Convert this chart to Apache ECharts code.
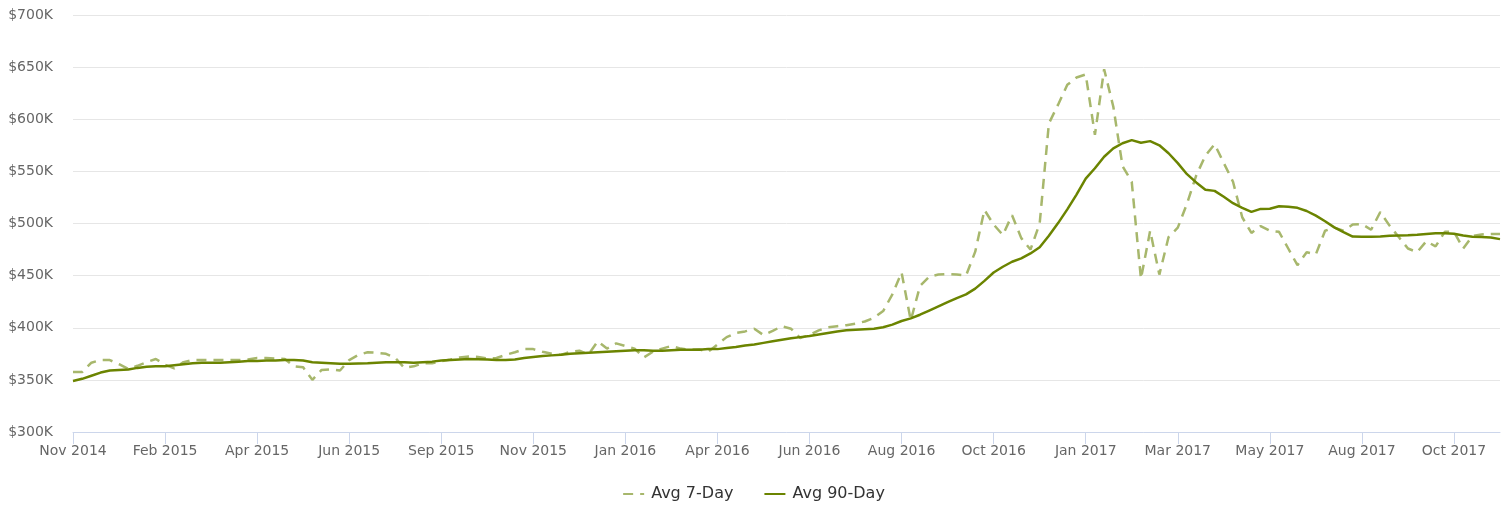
<!DOCTYPE html>
<html>
<head>
<meta charset="utf-8">
<script src="https://cdn.jsdelivr.net/npm/echarts@6/dist/echarts.min.js"></script>
<style>
html,body{margin:0;padding:0;background:#fff;}
#chart{width:1507px;height:506px;}
</style>
</head>
<body>
<div id="chart"></div>
<script>
// Weekly categories starting 2014-11-29
const startDate = '2014-11-29';
const weekCount = 156;
const categories = [];
(function(){
  const t0 = Date.parse(startDate + 'T00:00:00Z');
  for (let i = 0; i < weekCount; i++) {
    categories.push(new Date(t0 + i * 7 * 86400000).toISOString().slice(0, 10));
  }
})();

const tickLabels = ['Nov 2014','Feb 2015','Apr 2015','Jun 2015','Sep 2015','Nov 2015','Jan 2016','Apr 2016','Jun 2016','Aug 2016','Oct 2016','Jan 2017','Mar 2017','May 2017','Aug 2017','Oct 2017'];

const seriesNames = ['Avg 7-Day', 'Avg 90-Day'];

// values in $K
const avg7Day = [
  357.5,357.5,366.5,369,369,365,360.5,363.5,367,370,
  364.5,361,367,369,369,369,369,369,369,369.5,
  371,371,370.5,370,363,362,350,359.5,360,359,
  369,374,376.5,376,375,371,361.5,363,366,366,
  368,369.5,371.5,372.5,372,370.5,371,374,376.5,379.5,
  379.5,377,375,374,377,378,374.5,387,380,385,
  382.5,380,371.5,377,380,382.5,380,379,379.3,377,
  384,391,395,396.5,399,393,397,401.5,399,390,
  393,397.5,400.5,401.5,402.5,404,406,409.5,416,432,
  453,407,440,449,451,451.5,451,450,473,513,
  499,489,508,486,475,500,596,614,633,640,
  643,585,648,612,555,540,447,493,451,487,
  496,519,546,565,576,558,540,506,491,497.5,
  493,492,476,460,472.5,470.5,493,496,493,499,
  499.5,494,511,498,487,476,472.5,483,478,492,
  492,476,488,489.5,490,490
];

const avg90Day = [
  349,351,354,357,359,359.5,360,361.5,362.5,363,
  363,364,365,366,366.5,366.5,366.5,367,367.5,368,
  368,368.5,368.5,369,369,368.5,367,366.5,366,365.5,
  365.5,365.8,366,366.5,366.8,367,367,366.5,367,367.5,
  368.5,369,369.5,370,369.8,369.5,369,369,369.5,371,
  372,373,373.5,374,375,375.5,376,376.5,377,377.5,
  378,378.5,378.5,378,378,378.5,379,379,379,379.5,
  379.5,380.5,381.5,383,384,385.5,387,388.5,390,391,
  392,393.5,395,396.5,397.5,398,398.5,399,400.5,403,
  406.5,409,412.5,416.5,420.5,424.5,428.5,432,437.5,445,
  453,458.5,463.3,466.5,471.3,477.2,488.3,500.4,513.6,527.7,
  543,553,564,572,577,580,577.5,579,575,567.4,
  557.9,547.3,539.4,532.4,531.3,525.6,519.5,515,511.2,514,
  514.1,516.5,516,515,512,507.5,502.2,496.3,491.8,487.5,
  487.2,487.3,487.6,488.2,488.5,488.8,489.3,490,490.6,490.6,
  490.2,488.5,487.3,487,486.5,485
];

const yMin = 300, yMax = 700, yStep = 50;

const chart = echarts.init(document.getElementById('chart'), null, {renderer: 'canvas'});
chart.setOption({
  animation: false,
  backgroundColor: '#ffffff',
  textStyle: {fontFamily: 'DejaVu Sans'},
  grid: {left: 73, right: 7, top: 15, bottom: 74, containLabel: false},
  legend: {
    top: 481,
    left: 'center',
    itemWidth: 21,
    itemHeight: 16,
    itemGap: 30,
    itemStyle: {opacity: 0},
    textStyle: {fontSize: 16, color: '#333333', fontFamily: 'DejaVu Sans', padding: [0, 0, 0, 2]},
    data: seriesNames
  },
  xAxis: {
    type: 'category',
    data: categories,
    boundaryGap: false,
    axisLine: {lineStyle: {color: '#ccd6eb', width: 1}},
    axisTick: {show: true, interval: 9, length: 12, lineStyle: {color: '#ccd6eb'}},
    axisLabel: {
      interval: 9,
      margin: 12,
      fontSize: 14,
      color: '#666666',
      fontFamily: 'DejaVu Sans',
      formatter: function (v, idx) { return idx % 10 === 0 ? tickLabels[idx / 10] : ''; }
    },
    splitLine: {show: false}
  },
  yAxis: {
    type: 'value',
    min: yMin, max: yMax, interval: yStep,
    axisLine: {show: false},
    axisTick: {show: false},
    axisLabel: {
      margin: 20,
      fontSize: 14,
      color: '#666666',
      fontFamily: 'DejaVu Sans',
      formatter: function (v) { return '$' + v + 'K'; }
    },
    splitLine: {lineStyle: {color: '#e6e6e6', width: 1}}
  },
  series: [
    {
      name: seriesNames[0],
      type: 'line',
      data: avg7Day,
      showSymbol: false,
      symbol: 'none',
      color: '#a7b76c',
      lineStyle: {color: '#a7b76c', width: 2.5, type: [10, 7]},
      z: 2
    },
    {
      name: seriesNames[1],
      type: 'line',
      data: avg90Day,
      showSymbol: false,
      symbol: 'none',
      color: '#6b8400',
      lineStyle: {color: '#6b8400', width: 2.5},
      z: 3
    }
  ]
});
</script>
</body>
</html>
